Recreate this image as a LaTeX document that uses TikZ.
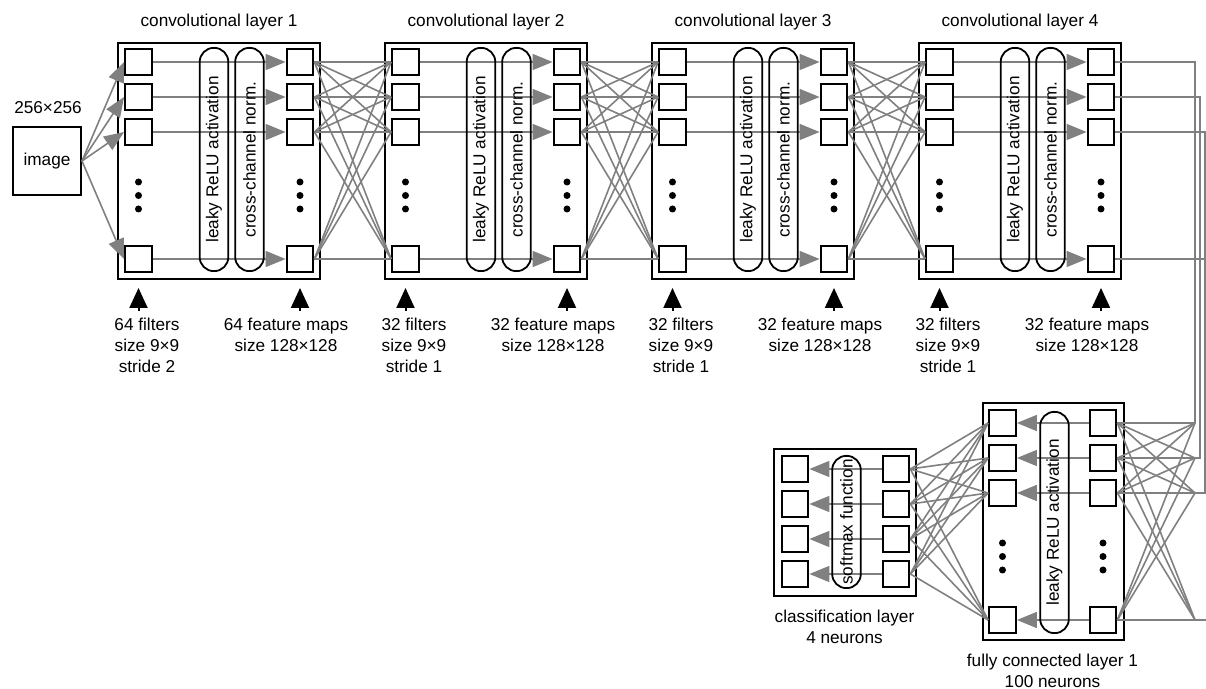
\documentclass[tikz,border=0pt]{standalone}
\usepackage{fontspec}
\setmainfont{Liberation Sans}
\usetikzlibrary{arrows.meta,positioning}
\definecolor{linkgray}{RGB}{128,128,128}

\begin{document}
\begin{tikzpicture}[x=0.5pt,y=-0.5pt,
        every node/.style={font=\fontsize{8.6}{10.5}\selectfont},
        neuron/.style={draw, line width=1pt, minimum size=13.4pt, inner sep=0pt},
        layerbox/.style={draw, line width=1.2pt, inner sep=0pt},
        pill/.style={draw, line width=0.9pt, rotate=90, rounded corners=7pt, minimum height=14.3pt, inner sep=0pt},
        link/.style={draw=linkgray, line width=0.8pt},
        flow/.style={link, -{Triangle[length=10pt,width=8pt]}, linkgray},
        uparrow/.style={line width=1pt, -{Triangle[length=10pt,width=9pt]}, shorten >=4pt},
        note/.style={align=center}]
    \useasboundingbox (0,0) rectangle (1206,689);
    \clip (0,0) rectangle (1206,689);

    \node[draw, line width=1pt, minimum size=34pt] (img) at (47,161) {image};
    \node (imgsize) at (48,107.5) {256×256};

    \foreach \k/\nf/\st in {1/64/2,2/32/1,3/32/1,4/32/1}{
        \pgfmathsetmacro{\dx}{(\k-1)*267}
        \node[layerbox, minimum width=100.8pt, minimum height=117.8pt] (L\k) at (219+\dx,161) {};
        \node (T\k) at (219+\dx,22) {convolutional layer \k};
        \foreach \r/\y in {1/62,2/97,3/132,4/259}{
            \node[neuron] (c\k-in-\r) at (138.5+\dx,\y) {};
            \node[neuron] (c\k-out-\r) at (300+\dx,\y) {};
            \draw[flow] (c\k-in-\r) -- (c\k-out-\r);
        }
        \foreach \d in {182,195.5,209}{
            \fill (138.5+\dx,\d) circle (1.75pt);
            \fill (300+\dx,\d) circle (1.75pt);
        }
        \node[pill, minimum width=111.6pt] (act\k) at (214+\dx,159.5) {leaky ReLU activation};
        \node[pill, minimum width=111.6pt] (norm\k) at (249.5+\dx,159.5) {cross-channel norm.};
        \node[note, anchor=north] (fil\k) at (147+\dx,311) {\nf{} filters\\size 9×9\\stride \st};
        \node[note, anchor=north] (map\k) at (286+\dx,311) {\nf{} feature maps\\size 128×128};
        \draw[uparrow] (fil\k.north -| c\k-in-4) -- (L\k.south -| c\k-in-4);
        \draw[uparrow] (map\k.north -| c\k-out-4) -- (L\k.south -| c\k-out-4);
    }

    \foreach \r in {1,...,4}
        \draw[flow] (img.east) -- (c1-in-\r.west);
    \foreach \k/\n in {1/2,2/3,3/4}
        \foreach \i in {1,...,4}
            \foreach \j in {1,...,4}
                \draw[link] (c\k-out-\i.east) -- (c\n-in-\j.west);

    \node[layerbox, minimum width=70.3pt, minimum height=118.3pt] (FC) at (1053.5,521.5) {};
    \foreach \r/\y in {1/423,2/458,3/493,4/620}{
        \node[neuron] (fc-in-\r) at (1103,\y) {};
        \node[neuron] (fc-out-\r) at (1002.5,\y) {};
        \draw[flow] (fc-in-\r) -- (fc-out-\r);
    }
    \foreach \d in {543,556.5,570}{
        \fill (1002.5,\d) circle (1.75pt);
        \fill (1103,\d) circle (1.75pt);
    }
    \node[pill, minimum width=110.6pt] (fcact) at (1054.5,522.5) {leaky ReLU activation};
    \node[note] (fclab) at (1052.5,671) {fully connected layer 1\\100 neurons};

    \node[layerbox, minimum width=70.8pt, minimum height=73.3pt] (CL) at (845,522.5) {};
    \foreach \r/\y in {1/469,2/504,3/539,4/574}{
        \node[neuron] (cls-in-\r) at (896,\y) {};
        \node[neuron] (cls-out-\r) at (795,\y) {};
        \draw[flow] (cls-in-\r) -- (cls-out-\r);
    }
    \node[pill, minimum width=66.1pt] (soft) at (846.5,522) {softmax function};
    \node[note] (cllab) at (844.5,627) {classification layer\\4 neurons};

    \foreach \i/\vx/\fy in {1/1195/423,2/1200/458,3/1205/493,4/1210/620}{
        \coordinate (v\i) at (\vx,\fy);
        \coordinate (f\i) at (1195,\fy);
        \draw[link] (c4-out-\i.east) -| (v\i) -- (f\i);
    }
    \foreach \i in {1,...,4}
        \foreach \j in {1,...,4}
            \draw[link] (f\i) -- (fc-in-\j.east);
    \foreach \i in {1,...,4}
        \foreach \j in {1,...,4}
            \draw[link] (fc-out-\i.west) -- (cls-in-\j.east);
\end{tikzpicture}
\end{document}
